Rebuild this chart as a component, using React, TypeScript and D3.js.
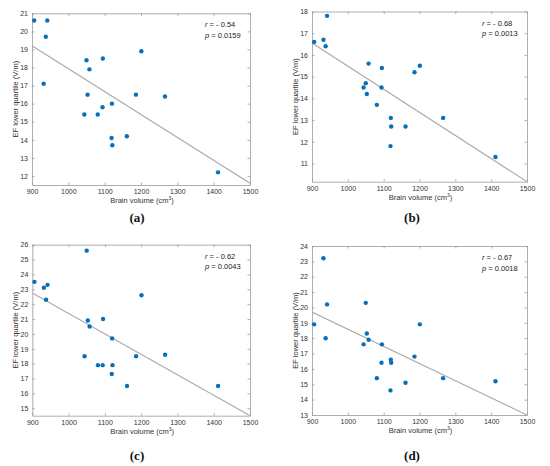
import * as d3 from "d3";
import { useRef, useEffect } from "react";

// brain volume per subject (cm3), same order in all four panels
const brainVolume = [906, 932, 938, 942, 1044, 1050, 1053, 1058, 1081, 1094, 1095, 1119, 1120, 1121, 1161, 1186, 1201, 1266, 1412];

// EF lower quartile (V/m) per subject
const efA = [20.6, 17.1, 19.7, 20.6, 15.4, 18.4, 16.5, 17.9, 15.4, 15.8, 18.5, 14.1, 16.0, 13.7, 14.2, 16.5, 18.9, 16.4, 12.2];
const efB = [16.6, 16.7, 16.4, 17.8, 14.5, 14.7, 14.2, 15.6, 13.7, 14.5, 15.4, 11.8, 13.1, 12.7, 12.7, 15.2, 15.5, 13.1, 11.3];
const efC = [23.5, 23.1, 22.3, 23.3, 18.5, 25.6, 20.9, 20.5, 17.9, 17.9, 21.0, 17.3, 19.7, 17.9, 16.5, 18.5, 22.6, 18.6, 16.5];
const efD = [18.9, 23.2, 18.0, 20.2, 17.6, 20.3, 18.3, 17.9, 15.4, 16.4, 17.6, 14.6, 16.6, 16.4, 15.1, 16.8, 18.9, 15.4, 15.2];

const panelLetters = ["(a)", "(b)", "(c)", "(d)"];
const rValues = ["- 0.54", "- 0.68", "- 0.62", "- 0.67"];
const pValues = ["0.0159", "0.0013", "0.0043", "0.0018"];

// fitted line, value at 900 and at 1500
const fitStart = [19.2, 16.55, 22.75, 19.7];
const fitEnd = [11.6, 10.16, 14.5, 13.0];

const xTicks = [900, 1000, 1100, 1200, 1300, 1400, 1500];
const yDomains: [number, number][] = [[11.5, 21], [10.16, 18], [14.5, 26], [13, 24]];
const yTicks = [
  d3.range(12, 22),
  d3.range(11, 19),
  d3.range(15, 27),
  d3.range(13, 25),
];

// plot boxes in page pixels: left, right, top, bottom, letter baseline
const boxes = [
  { l: 32, r: 250, t: 13.3, b: 185, label: 222 },
  { l: 312, r: 527, t: 11.5, b: 181.7, label: 222 },
  { l: 32.3, r: 250, t: 244.7, b: 415.7, label: 460 },
  { l: 312, r: 527, t: 246, b: 415, label: 460 },
];

const series = [efA, efB, efC, efD];

const axisColor = "#9a9a9a";
const textColor = "#333";
const sans = "Liberation Sans, Arial, sans-serif";

export default function App() {
  const svgRef = useRef<SVGSVGElement | null>(null);

  useEffect(() => {
    const svg = d3.select(svgRef.current);
    svg.selectAll("*").remove();

    series.forEach((ef, i) => {
      const box = boxes[i];
      const x = d3.scaleLinear().domain([900, 1500]).range([box.l, box.r]);
      const y = d3.scaleLinear().domain(yDomains[i]).range([box.b, box.t]);
      const g = svg.append("g");

      const clipId = `clip-${i}`;
      g.append("clipPath").attr("id", clipId)
        .append("rect")
        .attr("x", box.l).attr("y", box.t)
        .attr("width", box.r - box.l).attr("height", box.b - box.t);

      // axes (ticks pointing inward on all sides)
      const styleAxis = (a: d3.Selection<SVGGElement, unknown, null, undefined>) => {
        a.select(".domain").attr("stroke", axisColor).attr("stroke-width", 0.8);
        a.selectAll(".tick line").attr("stroke", axisColor).attr("stroke-width", 0.8);
        a.selectAll(".tick text").attr("fill", textColor).attr("font-family", sans).attr("font-size", 7);
      };
      g.append("g")
        .attr("transform", `translate(0,${box.b})`)
        .call(d3.axisBottom(x).tickValues(xTicks).tickSizeInner(-2.5).tickSizeOuter(0).tickPadding(4).tickFormat(d3.format("d")))
        .call(styleAxis as any);
      g.append("g")
        .attr("transform", `translate(0,${box.t})`)
        .call(d3.axisTop(x).tickValues(xTicks).tickSizeInner(-2.5).tickSizeOuter(0).tickFormat(() => ""))
        .call(styleAxis as any);
      g.append("g")
        .attr("transform", `translate(${box.l},0)`)
        .call(d3.axisLeft(y).tickValues(yTicks[i]).tickSizeInner(-2.5).tickSizeOuter(0).tickPadding(4).tickFormat(d3.format("d")))
        .call(styleAxis as any);
      g.append("g")
        .attr("transform", `translate(${box.r},0)`)
        .call(d3.axisRight(y).tickValues(yTicks[i]).tickSizeInner(-2.5).tickSizeOuter(0).tickFormat(() => ""))
        .call(styleAxis as any);

      // fitted line
      g.append("line")
        .attr("clip-path", `url(#${clipId})`)
        .attr("x1", x(900)).attr("y1", y(fitStart[i]))
        .attr("x2", x(1500)).attr("y2", y(fitEnd[i]))
        .attr("stroke", "#ababab")
        .attr("stroke-width", 1.1);

      // points
      g.append("g")
        .attr("fill", "#0b6fb8")
        .selectAll("circle")
        .data(ef)
        .join("circle")
        .attr("cx", (_, j) => x(brainVolume[j]))
        .attr("cy", (d) => y(d))
        .attr("r", 2.2);

      // stats
      const stats = g.append("g")
        .attr("font-family", sans)
        .attr("font-size", 7.5)
        .attr("fill", "#222");
      const rt = stats.append("text").attr("x", box.r - 45).attr("y", box.t + 14);
      rt.append("tspan").attr("font-style", "italic").text("r");
      rt.append("tspan").text(` = ${rValues[i]}`);
      const pt = stats.append("text").attr("x", box.r - 45).attr("y", box.t + 24.5);
      pt.append("tspan").attr("font-style", "italic").text("p");
      pt.append("tspan").text(` = ${pValues[i]}`);

      // axis titles
      const cx = (box.l + box.r) / 2;
      const xl = g.append("text")
        .attr("x", cx + 1)
        .attr("y", box.b + 18)
        .attr("text-anchor", "middle")
        .attr("font-family", sans)
        .attr("font-size", 7.5)
        .attr("fill", textColor);
      xl.append("tspan").text("Brain volume (cm");
      xl.append("tspan").attr("font-size", 5).attr("dy", -3).text("3");
      xl.append("tspan").attr("dy", 3).text(")");

      g.append("text")
        .attr("transform", `translate(${box.l - 14.5},${(box.t + box.b) / 2}) rotate(-90)`)
        .attr("text-anchor", "middle")
        .attr("font-family", sans)
        .attr("font-size", 7.5)
        .attr("fill", textColor)
        .text("EF lower quartile (V/m)");

      // panel letter
      g.append("text")
        .attr("x", i % 2 === 0 ? 137 : 412)
        .attr("y", box.label)
        .attr("text-anchor", "middle")
        .attr("font-family", "Liberation Serif, Times New Roman, serif")
        .attr("font-weight", "bold")
        .attr("font-size", 13)
        .attr("fill", "#111")
        .text(panelLetters[i]);
    });
  }, []);

  return (
    <svg
      ref={svgRef}
      width={550}
      height={466}
      viewBox="0 0 550 466"
      style={{ position: "absolute", left: 0, top: 0, background: "#fff" }}
    />
  );
}
